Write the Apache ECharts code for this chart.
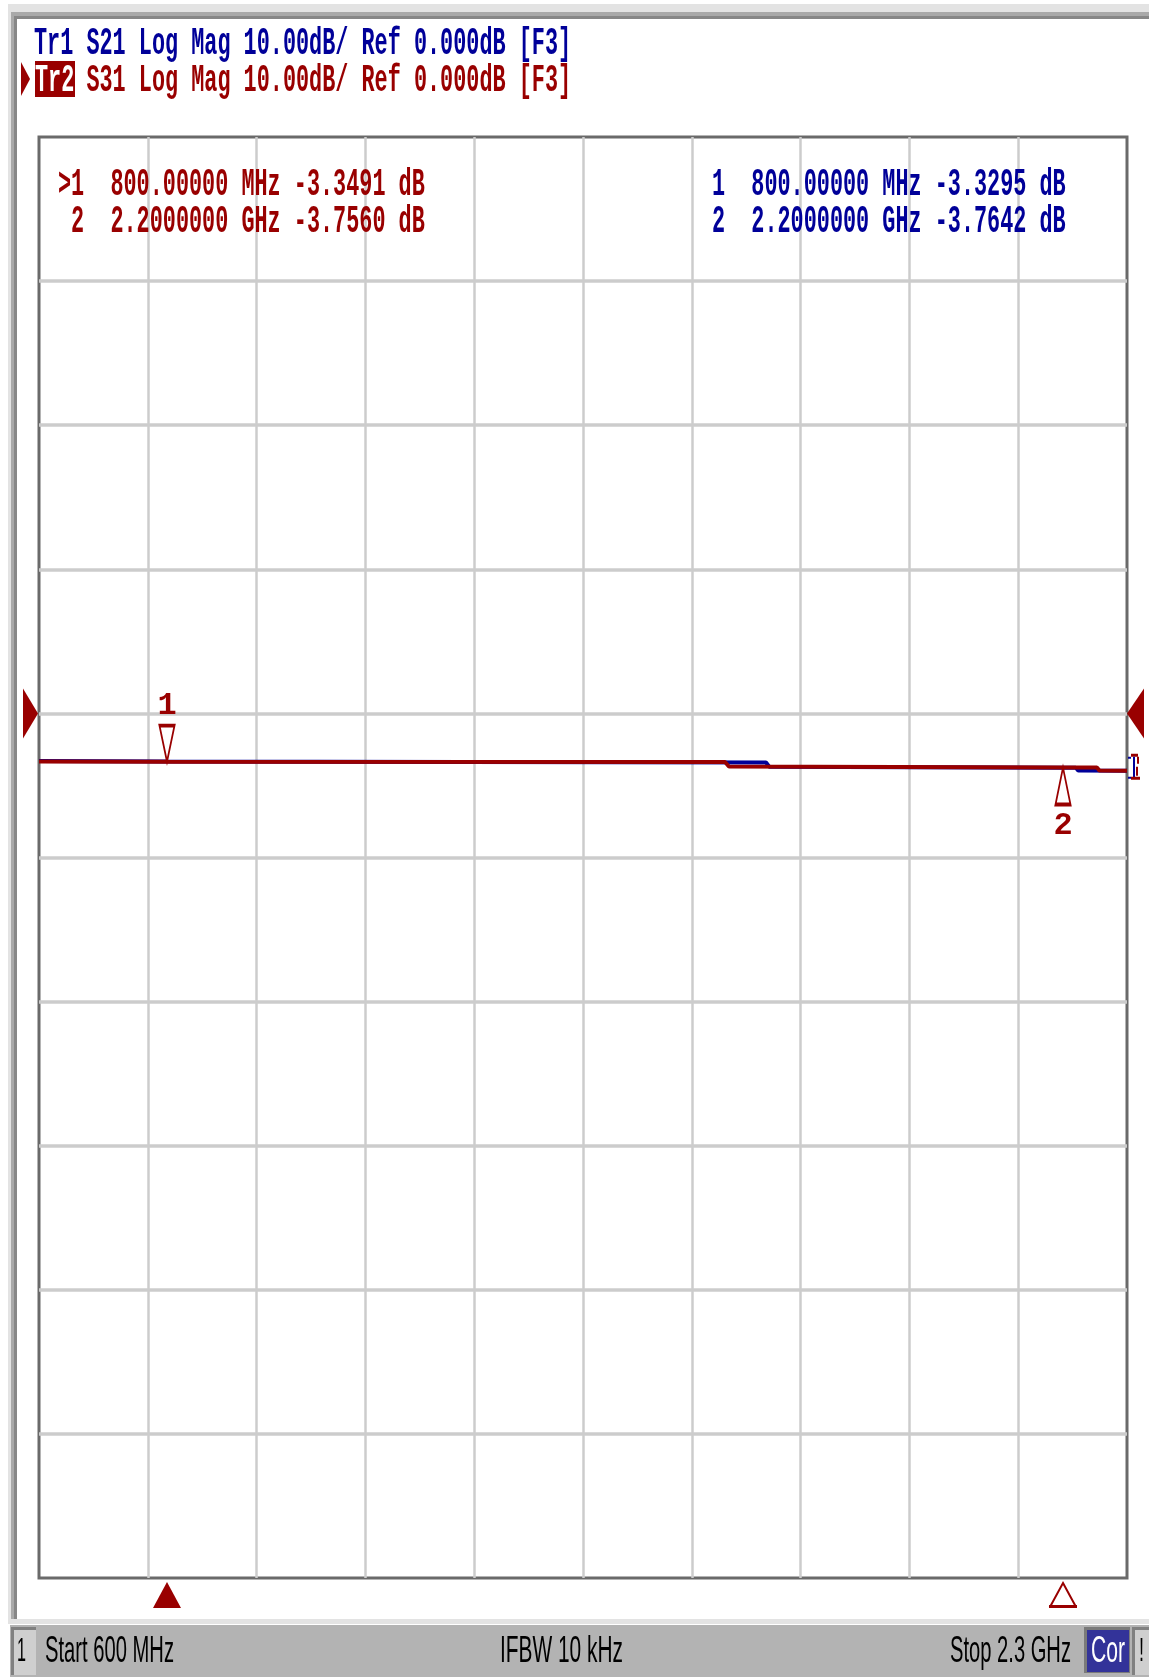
<!DOCTYPE html>
<html><head><meta charset="utf-8">
<script src="https://cdn.jsdelivr.net/npm/echarts@6/dist/echarts.min.js"></script>
<style>html,body{margin:0;padding:0;background:#fff}#main{width:1149px;height:1677px}</style>
</head><body><div id="main"></div>
<script>
// ---- data ----
const freqS21 = [600, 800, 1736, 1741, 2200, 2220, 2224, 2300];
const magS21  = [-3.31, -3.3295, -3.41, -3.70, -3.7642, -3.77, -3.97, -3.98];
const freqS31 = [600, 800, 1672, 1678, 2200, 2253, 2257, 2300];
const magS31  = [-3.33, -3.3491, -3.37, -3.69, -3.7560, -3.76, -3.97, -3.98];
const markerFreqs = [800, 2200];
const markerS21 = [-3.3295, -3.7642];
const markerS31 = [-3.3491, -3.7560];
const markerFreqText = ['800.00000 MHz', '2.2000000 GHz'];
const traceHeaders = ['Tr1 S21 Log Mag 10.00dB/ Ref 0.000dB [F3]', 'Tr2', 'S31 Log Mag 10.00dB/ Ref 0.000dB [F3]'];
const statusLabels = ['1', 'Start 600 MHz', 'IFBW 10 kHz', 'Stop 2.3 GHz', 'Cor', '!'];
const startMHz = 600, stopMHz = 2300, refDB = 0, scaleDB = 10, divisions = 10, refDiv = 4;

const RED = '#990000', BLUE = '#000099';
const MONO = '"Liberation Mono", "DejaVu Sans Mono", monospace';
const SANS = '"Liberation Sans", Arial, sans-serif';

const chart = echarts.init(document.getElementById('main'), null, {renderer: 'canvas'});
const zip = (a, b) => a.map((v, i) => [v, b[i]]);

chart.setOption({
  animation: false,
  backgroundColor: '#ffffff',
  grid: {left: 39, top: 137, width: 1088, height: 1441, show: true, backgroundColor: '#ffffff',
         borderColor: '#6a6a6a', borderWidth: 3, containLabel: false},
  xAxis: [
    {type: 'value', min: startMHz, max: stopMHz, show: false, splitLine: {show: false}},
    {type: 'value', min: 0, max: divisions, interval: 1, show: true,
     axisLine: {show: false}, axisTick: {show: false}, axisLabel: {show: false},
     splitLine: {show: true, showMinLine: false, showMaxLine: false, lineStyle: {color: '#cccccc', width: 2.5}}}
  ],
  yAxis: {type: 'value', min: refDB - (divisions - refDiv) * scaleDB, max: refDB + refDiv * scaleDB, interval: scaleDB,
          axisLine: {show: false}, axisTick: {show: false}, axisLabel: {show: false},
          splitLine: {show: true, showMinLine: false, showMaxLine: false, lineStyle: {color: '#cccccc', width: 3.5}}},
  series: [
    {name: 'S21', type: 'line', xAxisIndex: 0, data: zip(freqS21, magS21), showSymbol: false, symbol: 'none',
     lineStyle: {color: BLUE, width: 4}, itemStyle: {color: BLUE}, z: 3},
    {name: 'S31', type: 'line', xAxisIndex: 0, data: zip(freqS31, magS31), showSymbol: false, symbol: 'none',
     lineStyle: {color: RED, width: 4}, itemStyle: {color: RED}, z: 4,
     markPoint: {
       silent: true,
       data: [
         {coord: [markerFreqs[0], markerS31[0]], symbol: 'path://M0,0 L16,0 L8,38 Z', symbolSize: [15, 36],
          symbolOffset: [0, '-50%'],
          itemStyle: {color: 'rgba(0,0,0,0)', borderColor: RED, borderWidth: 2.5},
          label: {show: true, position: 'top', distance: 2, formatter: '1', color: RED, fontFamily: MONO, fontSize: 32, fontWeight: 'bold'}},
         {coord: [markerFreqs[1], markerS31[1]], symbol: 'path://M8,0 L16,38 L0,38 Z', symbolSize: [15, 37],
          symbolOffset: [0, '50%'],
          itemStyle: {color: 'rgba(0,0,0,0)', borderColor: RED, borderWidth: 2.5},
          label: {show: true, position: 'bottom', distance: 3, formatter: '2', color: RED, fontFamily: MONO, fontSize: 32, fontWeight: 'bold'}}
       ]
     }}
  ]
});

// ---- decorations / texts ----
const mctx = document.createElement('canvas').getContext('2d');
function txt(str, x, cy, width, size, family, color, weight) {
  const w8 = weight || 'normal';
  mctx.font = w8 + ' ' + size + 'px ' + family;
  const w = mctx.measureText(str).width;
  return {type: 'text', x: x, y: cy, scaleX: width / w, z: 200,
          style: {text: str, x: 0, y: 0, fill: color, fontSize: size, fontFamily: family, fontWeight: w8,
                  align: 'left', verticalAlign: 'middle', textAlign: 'left', textVerticalAlign: 'middle'}};
}
function monoTxt(str, x, cy, cell, size, color) { return txt(str, x, cy, str.length * cell, size, MONO, color, 'bold'); }
function rect(x, y, w, h, fill, z) { return {type: 'rect', shape: {x: x, y: y, width: w, height: h}, style: {fill: fill}, z: z || 150, silent: true}; }
function poly(points, fill, stroke, lw) {
  return {type: 'polygon', shape: {points: points}, style: {fill: fill || 'none', stroke: stroke || null, lineWidth: lw || 0}, z: 210, silent: true};
}
const fmtVal = v => v.toFixed(4) + ' dB';

const g = [];
// window frame
g.push(rect(8, 4, 1141, 8, '#e3e3e3'), rect(11, 12, 1138, 4, '#a9a9a9'), rect(14, 16, 1135, 3, '#878787'));
g.push(rect(8, 4, 3, 1618, '#e3e3e3'), rect(11, 12, 3, 1610, '#a9a9a9'), rect(14, 16, 3, 1606, '#878787'));
g.push(rect(8, 1619, 1141, 5, '#e3e3e3'));
// status bar
g.push(rect(10, 1625, 1139, 52, '#b3b3b3'));
g.push(rect(11, 1627, 25, 48, '#cfcfcf'), rect(11, 1627, 25, 3, '#808080'), rect(11, 1627, 3, 48, '#808080'));
g.push(rect(1084, 1627, 46, 46, '#7a7a7a'), rect(1087, 1630, 42, 42, '#333399'));
g.push(rect(1132, 1627, 17, 48, '#cfcfcf'), rect(1132, 1627, 17, 3, '#808080'), rect(1132, 1627, 3, 48, '#808080'));
g.push(txt(statusLabels[0], 17, 1652, 9, 34, SANS, '#000'));
g.push(txt(statusLabels[1], 45, 1652, 129, 36, SANS, '#000'));
g.push(txt(statusLabels[2], 500, 1652, 123, 36, SANS, '#000'));
g.push(txt(statusLabels[3], 950, 1652, 121, 36, SANS, '#000'));
g.push(txt(statusLabels[4], 1091, 1652, 34, 36, SANS, '#ffffff'));
g.push(txt(statusLabels[5], 1139, 1652, 5, 34, SANS, '#000'));

// trace headers
const HC = 13.1;
g.push(monoTxt(traceHeaders[0], 34, 44, HC, 38, BLUE));
g.push(rect(35, 61, 40, 36, RED, 190));
g.push(monoTxt(traceHeaders[1], 35, 81, HC, 38, '#ffffff'));
g.push(monoTxt(traceHeaders[2], 34 + 4 * HC, 81, HC, 38, RED));
g.push(poly([[21, 62], [30, 79], [21, 96]], RED));

// marker readouts (left: Tr2 red, right: Tr1 blue)
const leftL1 = '>1  ' + markerFreqText[0] + ' ' + fmtVal(markerS31[0]);
const leftL2 = ' 2  ' + markerFreqText[1] + ' ' + fmtVal(markerS31[1]);
const rightL1 = '1  ' + markerFreqText[0] + ' ' + fmtVal(markerS21[0]);
const rightL2 = '2  ' + markerFreqText[1] + ' ' + fmtVal(markerS21[1]);
g.push(monoTxt(leftL1, 58, 185.5, 13.1, 38, RED));
g.push(monoTxt(leftL2, 58, 222.5, 13.1, 38, RED));
g.push(monoTxt(rightL1, 712, 185, 13.1, 38, BLUE));
g.push(monoTxt(rightL2, 712, 222, 13.1, 38, BLUE));

// reference-level triangles and stimulus marker triangles, positioned through the axes
const pRef = chart.convertToPixel({xAxisIndex: 0, yAxisIndex: 0}, [startMHz, refDB]);
const pEnd = chart.convertToPixel({xAxisIndex: 0, yAxisIndex: 0}, [stopMHz, refDB]);
const yRef = pRef[1];
g.push(poly([[23, yRef - 25], [38, yRef], [23, yRef + 25]], RED));
g.push(poly([[pEnd[0] + 17, yRef - 25], [pEnd[0], yRef], [pEnd[0] + 17, yRef + 25]], RED));

const yMin = refDB - (divisions - refDiv) * scaleDB;
const m1 = chart.convertToPixel({xAxisIndex: 0, yAxisIndex: 0}, [markerFreqs[0], yMin]);
const m2 = chart.convertToPixel({xAxisIndex: 0, yAxisIndex: 0}, [markerFreqs[1], yMin]);
g.push(poly([[m1[0], m1[1] + 4], [m1[0] + 14, m1[1] + 30], [m1[0] - 14, m1[1] + 30]], RED));
g.push(poly([[m2[0], m2[1] + 5], [m2[0] + 12.5, m2[1] + 28], [m2[0] - 12.5, m2[1] + 28]], '#ffffff', RED, 2));
g.push(rect(m2[0] - 14, m2[1] + 27, 28, 3, RED, 211));

// trace end indicator at right edge
const pE = chart.convertToPixel({xAxisIndex: 0, yAxisIndex: 0}, [stopMHz, magS31[magS31.length - 1]]);
const ex = pE[0], ey = pE[1];
g.push(rect(ex + 4, ey - 17, 7, 3, RED, 220), rect(ex + 10, ey - 14, 2, 7, RED, 220),
       rect(ex + 6, ey - 14, 2, 22, BLUE, 220), rect(ex + 9, ey - 4, 2, 9, RED, 220),
       rect(ex + 4, ey + 6, 9, 3, RED, 220), rect(ex + 1, ey - 14, 3, 2, BLUE, 220), rect(ex + 1, ey + 6, 3, 2, BLUE, 220));

chart.setOption({graphic: {elements: g}});
</script>
</body></html>
